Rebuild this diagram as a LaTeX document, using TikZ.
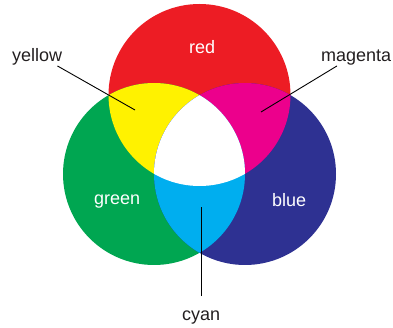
\documentclass[tikz,border=0pt]{standalone}
\usepackage{fontspec}
\setmainfont{Liberation Sans}
\usetikzlibrary{positioning,calc}
\definecolor{rgbred}{HTML}{ED1C24}
\definecolor{rgbgreen}{HTML}{00A651}
\definecolor{rgbblue}{HTML}{2E3192}
\definecolor{rgbyellow}{HTML}{FFF200}
\definecolor{rgbmagenta}{HTML}{EC008C}
\definecolor{rgbcyan}{HTML}{00AEEF}
\definecolor{ink}{HTML}{231F20}

\begin{document}
\begin{tikzpicture}[x=1pt,y=-1pt,
   lab/.style={font=\fontsize{18}{20}\selectfont,inner sep=0pt,anchor=base west,text=#1},
   lead/.style={draw=black,line width=0.9pt}]
  \useasboundingbox (0,0) rectangle (393,328);
  \def\rad{91pt}
  % circle centres
  \coordinate (R) at (199.5,95);
  \coordinate (G) at (154,174);
  \coordinate (B) at (245,174);
  % primaries
  \foreach \c/\col in {R/rgbred,G/rgbgreen,B/rgbblue}{
    \fill[\col] (\c) circle[radius=\rad];}
  % overlaps
  \begin{scope}
    \clip (R) circle[radius=\rad];
    \fill[rgbyellow] (G) circle[radius=\rad];
    \fill[rgbmagenta] (B) circle[radius=\rad];
  \end{scope}
  \begin{scope}
    \clip (G) circle[radius=\rad];
    \fill[rgbcyan] (B) circle[radius=\rad];
    \clip (B) circle[radius=\rad];
    \fill[white] (R) circle[radius=\rad];
  \end{scope}
  % labels
  \node[lab=white] (red) at (189,54) {red};
  \node[lab=white] (green) at (94,205) {green};
  \node[lab=white] (blue) at (272,207) {blue};
  \node[lab=ink] (yellow) at (12,62) {yellow};
  \node[lab=ink] (magenta) at (321,62) {magenta};
  \node[lab=ink] (cyan) at (182,320) {cyan};
  % leader lines
  \coordinate (ypt) at (135,110);
  \coordinate (mpt) at (261,112);
  \coordinate (cpt) at (200,207);
  \draw[lead] ([xshift=-5pt]yellow.south east) -- (ypt);
  \draw[lead] ([xshift=16pt]magenta.south west) -- (mpt);
  \draw[lead] ([yshift=14pt]cyan.north) -- (cyan.north |- cpt);
\end{tikzpicture}
\end{document}
